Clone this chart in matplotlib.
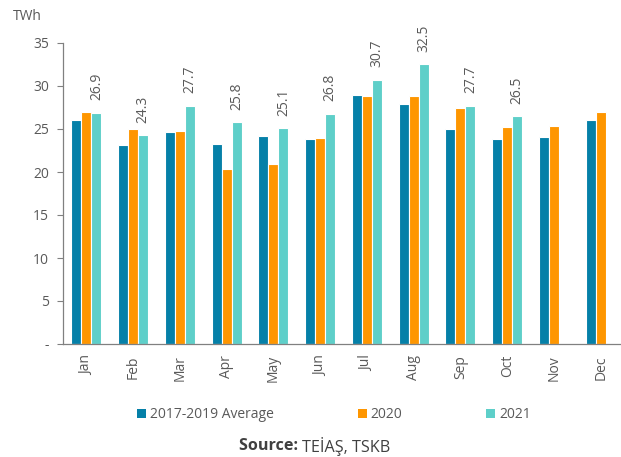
import matplotlib
matplotlib.use("Agg")
import matplotlib.pyplot as plt
import numpy as np
from matplotlib.patches import Patch

months = ["Jan", "Feb", "Mar", "Apr", "May", "Jun", "Jul", "Aug", "Sep", "Oct", "Nov", "Dec"]
avg_2017_2019 = [26.0, 23.1, 24.6, 23.3, 24.2, 23.8, 28.9, 27.9, 25.0, 23.8, 24.1, 26.0]
y2020 = [27.0, 25.0, 24.8, 20.3, 20.9, 23.9, 28.8, 28.8, 27.4, 25.2, 25.4, 27.0]
y2021 = [26.9, 24.3, 27.7, 25.8, 25.1, 26.8, 30.7, 32.5, 27.7, 26.5]
series_names = ["2017-2019 Average", "2020", "2021"]
yticks = [0, 5, 10, 15, 20, 25, 30, 35]
ytick_labels = ["-", "5", "10", "15", "20", "25", "30", "35"]

colors = ["#0580A8", "#FE9600", "#5ECFC9"]
gray = "#595959"

plt.rcParams['font.family'] = ['Open Sans', 'DejaVu Sans']

W, H = 621, 457
fig = plt.figure(figsize=(W / 100, H / 100), dpi=100)
left, right, bottom_px, top_px = 63, 624, 344, 43
ax = fig.add_axes([left / W, (H - bottom_px) / H, (right - left) / W, (bottom_px - top_px) / H])

x = np.arange(len(months))
bw = 0.214
ax.bar(x - bw, avg_2017_2019, width=bw, color=colors[0], edgecolor="white", linewidth=0.8)
ax.bar(x, y2020, width=bw, color=colors[1], edgecolor="white", linewidth=0.8)
x21 = x[:len(y2021)]
ax.bar(x21 + bw, y2021, width=bw, color=colors[2], edgecolor="white", linewidth=0.8)

for xi, v in zip(x21, y2021):
    ax.annotate(f"{v:.1f}", (xi + bw, v), xytext=(0, 9), textcoords="offset points",
                rotation=90, ha="center", va="bottom", fontsize=10, color=gray)

ax.set_xlim(-0.5, len(months) - 0.5)
ax.set_ylim(0, 35)
ax.set_yticks(yticks)
ax.set_yticklabels(ytick_labels)
ax.set_xticks(x)
ax.set_xticklabels(months, rotation=90)
ax.tick_params(axis="x", length=0, pad=8, labelsize=10, labelcolor=gray)
ax.tick_params(axis="y", length=4, width=0.8, color="#808080", pad=6, labelsize=10, labelcolor=gray)
for s in ["top", "right"]:
    ax.spines[s].set_visible(False)
for s in ["left", "bottom"]:
    ax.spines[s].set_color("#808080")
    ax.spines[s].set_linewidth(0.9)

fig.text(13 / W, 1 - 16 / H, "TWh", fontsize=10, color=gray, ha="left", va="center")

handles = [Patch(facecolor=c, edgecolor="none") for c in colors]
fig.legend(handles, series_names, loc="center", bbox_to_anchor=(334 / W, 1 - 415 / H), ncol=3,
           frameon=False, fontsize=10, labelcolor=gray, handlelength=0.65, handleheight=0.65,
           handletextpad=0.3, columnspacing=6.0)

# Source line: bold label followed by regular text, centred as a whole
fig.canvas.draw()
renderer = fig.canvas.get_renderer()
ys = 1 - 446 / H
tb = fig.text(0, ys, "Source: ", fontsize=11.6, color="#404040", ha="left", va="center", fontweight="bold")
tn = fig.text(0, ys, "TEİAŞ, TSKB", fontsize=11.6, color="#404040", ha="left", va="center")
wb = tb.get_window_extent(renderer).width
wn = tn.get_window_extent(renderer).width
start = 315 - (wb + wn) / 2
tb.set_x(start / W)
tn.set_x((start + wb) / W)

fig.savefig("out.png", dpi=100)
